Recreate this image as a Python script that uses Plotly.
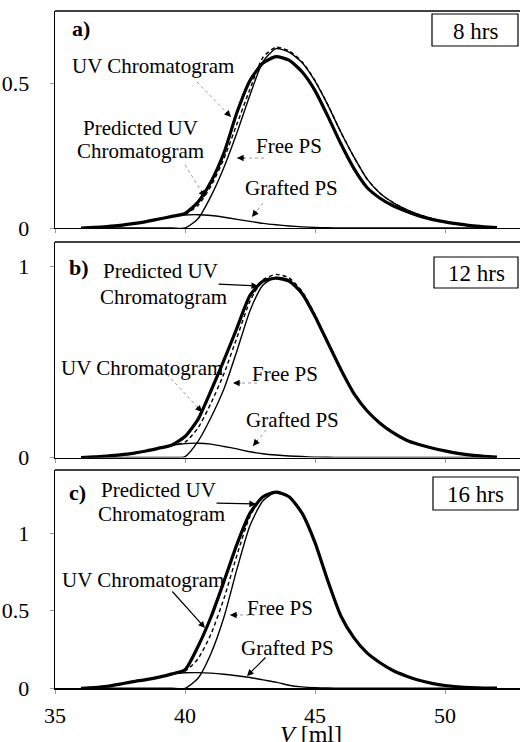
import plotly.graph_objects as go

# ---------------- data ----------------
V = [36.0, 36.5, 37.0, 37.5, 38.0, 38.5, 39.0, 39.5, 40.0, 40.5, 41.0,
     41.5, 42.0, 42.5, 43.0, 43.5, 44.0, 44.5, 45.0, 45.5, 46.0, 46.5,
     47.0, 47.5, 48.0, 48.5, 49.0, 49.5, 50.0, 50.5, 51.0, 51.5, 52.0]

# panel a) 8 hrs
uv_a = [0.000, 0.002, 0.005, 0.009, 0.015, 0.022, 0.031, 0.040, 0.050, 0.090, 0.160,
        0.260, 0.400, 0.510, 0.570, 0.592, 0.580, 0.540, 0.475, 0.385, 0.290, 0.205,
        0.140, 0.103, 0.077, 0.058, 0.042, 0.030, 0.021, 0.014, 0.008, 0.004, 0.001]
pred_a = [0.000, 0.002, 0.005, 0.009, 0.015, 0.022, 0.031, 0.040, 0.048, 0.078, 0.145,
          0.240, 0.360, 0.480, 0.590, 0.625, 0.612, 0.575, 0.510, 0.425, 0.330, 0.245,
          0.170, 0.120, 0.088, 0.064, 0.046, 0.032, 0.021, 0.013, 0.007, 0.003, 0.001]
free_a = [0.000, 0.000, 0.000, 0.000, 0.000, 0.000, 0.000, 0.000, 0.000, 0.032, 0.110,
          0.210, 0.330, 0.460, 0.575, 0.620, 0.608, 0.572, 0.508, 0.424, 0.330, 0.245,
          0.170, 0.120, 0.088, 0.064, 0.046, 0.032, 0.021, 0.013, 0.007, 0.003, 0.001]
graft_a = [0.000, 0.002, 0.005, 0.009, 0.015, 0.022, 0.031, 0.040, 0.045, 0.046, 0.043,
           0.037, 0.030, 0.023, 0.016, 0.011, 0.007, 0.004, 0.002, 0.001, 0.000, 0.000,
           0.000, 0.000, 0.000, 0.000, 0.000, 0.000, 0.000, 0.000, 0.000, 0.000, 0.000]

# panel b) 12 hrs
uv_b = [0.000, 0.003, 0.008, 0.014, 0.022, 0.034, 0.049, 0.066, 0.110, 0.200, 0.350,
        0.510, 0.680, 0.850, 0.925, 0.940, 0.925, 0.860, 0.740, 0.600, 0.460, 0.335,
        0.245, 0.180, 0.130, 0.092, 0.068, 0.050, 0.035, 0.022, 0.012, 0.006, 0.002]
pred_b = [0.000, 0.003, 0.008, 0.014, 0.022, 0.033, 0.048, 0.064, 0.080, 0.155, 0.285,
          0.440, 0.630, 0.820, 0.932, 0.960, 0.942, 0.872, 0.750, 0.605, 0.462, 0.335,
          0.245, 0.180, 0.130, 0.092, 0.068, 0.050, 0.035, 0.022, 0.012, 0.006, 0.002]
free_b = [0.000, 0.000, 0.000, 0.000, 0.000, 0.000, 0.000, 0.000, 0.005, 0.085, 0.210,
          0.360, 0.560, 0.770, 0.905, 0.945, 0.932, 0.866, 0.746, 0.602, 0.460, 0.335,
          0.245, 0.180, 0.130, 0.092, 0.068, 0.050, 0.035, 0.022, 0.012, 0.006, 0.002]
graft_b = [0.000, 0.003, 0.008, 0.014, 0.022, 0.033, 0.048, 0.064, 0.073, 0.075, 0.070,
           0.058, 0.045, 0.030, 0.020, 0.013, 0.008, 0.005, 0.002, 0.001, 0.000, 0.000,
           0.000, 0.000, 0.000, 0.000, 0.000, 0.000, 0.000, 0.000, 0.000, 0.000, 0.000]

# panel c) 16 hrs
uv_c = [0.000, 0.005, 0.013, 0.027, 0.043, 0.056, 0.072, 0.093, 0.120, 0.270, 0.460,
        0.690, 0.930, 1.130, 1.235, 1.265, 1.235, 1.130, 0.940, 0.690, 0.465, 0.325,
        0.228, 0.165, 0.115, 0.080, 0.052, 0.032, 0.018, 0.010, 0.005, 0.002, 0.001]
pred_c = [0.000, 0.005, 0.013, 0.026, 0.042, 0.055, 0.072, 0.092, 0.110, 0.190, 0.350,
          0.580, 0.860, 1.110, 1.238, 1.272, 1.240, 1.135, 0.945, 0.692, 0.466, 0.325,
          0.228, 0.165, 0.115, 0.080, 0.052, 0.032, 0.018, 0.010, 0.005, 0.002, 0.001]
free_c = [0.000, 0.000, 0.000, 0.000, 0.000, 0.000, 0.000, 0.000, 0.000, 0.065, 0.225,
          0.460, 0.770, 1.050, 1.210, 1.265, 1.235, 1.130, 0.940, 0.690, 0.465, 0.325,
          0.228, 0.165, 0.115, 0.080, 0.052, 0.032, 0.018, 0.010, 0.005, 0.002, 0.001]
graft_c = [0.000, 0.005, 0.013, 0.026, 0.042, 0.055, 0.072, 0.092, 0.100, 0.101, 0.098,
           0.091, 0.081, 0.070, 0.054, 0.040, 0.020, 0.009, 0.004, 0.002, 0.000, 0.000,
           0.000, 0.000, 0.000, 0.000, 0.000, 0.000, 0.000, 0.000, 0.000, 0.000, 0.000]

panel_labels = ["a)", "b)", "c)"]
time_labels = ["8 hrs", "12 hrs", "16 hrs"]
y_ticks = [[0, 0.5], [0, 1], [0, 0.5, 1]]
y_tick_text = [["0", "0.5"], ["0", "1"], ["0", "0.5", "1"]]
x_ticks = [35, 40, 45, 50]
x_tick_text = ["35", "40", "45", "50"]
x_title = "<i>V</i> [ml]"

# ---------------- layout geometry (pixels) ----------------
W, H = 520, 742
FONT = "Liberation Serif"
X_LEFT, X_RIGHT = 55, 520
X_RANGE = [35, 35 + (X_RIGHT - X_LEFT) / 26.0]
panels_px = [(11, 228.0), (242, 457.5), (470, 688.3)]   # (top, bottom)
y_ranges = [[0, 0.75], [0, 1.13], [0, 1.408]]

def px(x):
    return x / W

def py(y):
    return 1 - y / H

fig = go.Figure()

series = [
    (uv_a, pred_a, free_a, graft_a),
    (uv_b, pred_b, free_b, graft_b),
    (uv_c, pred_c, free_c, graft_c),
]

for i, (uv, pred, free, graft) in enumerate(series):
    xa = "x" if i == 0 else f"x{i+1}"
    ya = "y" if i == 0 else f"y{i+1}"
    common = dict(x=V, xaxis=xa, yaxis=ya, mode="lines", showlegend=False,
                  hoverinfo="skip")
    fig.add_trace(go.Scatter(y=graft, line=dict(color="black", width=1.4,
                                                shape="spline", smoothing=0.6), **common))
    fig.add_trace(go.Scatter(y=free, line=dict(color="black", width=1.4,
                                               shape="spline", smoothing=0.6), **common))
    fig.add_trace(go.Scatter(y=uv, line=dict(color="black", width=3.2,
                                             shape="spline", smoothing=0.6), **common))
    fig.add_trace(go.Scatter(y=pred, line=dict(color="black", width=1.4, dash="4px,3px",
                                               shape="spline", smoothing=0.6), **common))

layout = dict(width=W, height=H, margin=dict(l=0, r=0, t=0, b=0, autoexpand=False),
              paper_bgcolor="white", plot_bgcolor="white",
              font=dict(family=FONT, color="black", size=21))

for i in range(3):
    top, bot = panels_px[i]
    xkey = "xaxis" if i == 0 else f"xaxis{i+1}"
    ykey = "yaxis" if i == 0 else f"yaxis{i+1}"
    ya = "y" if i == 0 else f"y{i+1}"
    xa = "x" if i == 0 else f"x{i+1}"
    layout[xkey] = dict(domain=[px(X_LEFT), 1], range=X_RANGE, anchor=ya,
                        automargin=False,
                        showline=True, linecolor="black", linewidth=1.3,
                        ticks="outside", ticklen=4, tickcolor="#999", tickwidth=1,
                        tickvals=x_ticks, ticktext=x_tick_text,
                        showticklabels=(i == 2), showgrid=False, zeroline=False,
                        tickfont=dict(size=22, family=FONT), ticklabelstandoff=3)
    layout[ykey] = dict(domain=[py(bot), py(top)], range=y_ranges[i], anchor=xa,
                        automargin=False,
                        showline=True, linecolor="black", linewidth=1.3,
                        ticks="outside", ticklen=4, tickcolor="#999", tickwidth=1,
                        tickvals=y_ticks[i], ticktext=y_tick_text[i],
                        showgrid=False, zeroline=False,
                        tickfont=dict(size=22, family=FONT), ticklabelstandoff=16)

fig.update_layout(**layout)

shapes = []
annotations = []

# top borders of panels
for top, bot in panels_px:
    shapes.append(dict(type="line", xref="paper", yref="paper",
                       x0=px(X_LEFT), x1=1, y0=py(top), y1=py(top),
                       line=dict(color="black", width=1.3)))

# time boxes
time_boxes = [(432, 14, 518, 46), (434, 257, 518, 288), (433, 477, 518, 510)]
for (x0, y0, x1, y1), lab in zip(time_boxes, time_labels):
    shapes.append(dict(type="rect", xref="paper", yref="paper",
                       x0=px(x0), x1=px(x1), y0=py(y1), y1=py(y0),
                       line=dict(color="black", width=1.2), fillcolor="white"))
    annotations.append(dict(xref="paper", yref="paper", x=px((x0 + x1) / 2),
                            y=py((y0 + y1) / 2 + 1), text=lab, showarrow=False,
                            xanchor="center", yanchor="middle",
                            font=dict(size=23, family=FONT)))

def text(x, y, s, size=21, bold=False):
    annotations.append(dict(xref="paper", yref="paper", x=px(x), y=py(y),
                            text=(f"<b>{s}</b>" if bold else s), showarrow=False,
                            xanchor="center", yanchor="middle",
                            font=dict(size=size, family=FONT)))

def arrow(tx, ty, hx, hy, dotted):
    if dotted:
        shapes.append(dict(type="line", xref="paper", yref="paper",
                           x0=px(tx), y0=py(ty), x1=px(hx), y1=py(hy),
                           line=dict(color="#9a9a9a", width=1, dash="dot")))
        dx, dy = tx - hx, ty - hy
        n = (dx * dx + dy * dy) ** 0.5
        ax, ay = dx / n * 9, dy / n * 9
    else:
        ax, ay = tx - hx, ty - hy
    annotations.append(dict(xref="paper", yref="paper", x=px(hx), y=py(hy),
                            ax=ax, ay=ay, axref="pixel", ayref="pixel", text="",
                            showarrow=True, arrowhead=2, arrowsize=1.1,
                            arrowwidth=1.2, arrowcolor="black"))

# panel a
text(81, 29, panel_labels[0], size=22, bold=True)
text(153, 66, "UV Chromatogram")
text(140, 128, "Predicted UV")
text(140, 151, "Chromatogram")
text(289, 146, "Free PS")
text(291, 188, "Grafted PS")
arrow(197, 82, 231, 117, True)
arrow(185, 165, 205, 197, True)
arrow(264, 158, 237, 158, True)
arrow(263, 203, 252, 217, True)

# panel b
text(79, 267, panel_labels[1], size=22, bold=True)
text(160, 271, "Predicted UV")
text(163, 297, "Chromatogram")
text(142, 368, "UV Chromatogram")
text(285, 374, "Free PS")
text(292, 420, "Grafted PS")
arrow(217, 284, 258, 286, False)
arrow(163, 370, 202, 412, True)
arrow(257, 383, 233, 383, True)
arrow(266, 430, 253, 446, True)

# panel c
text(77, 492, panel_labels[2], size=22, bold=True)
text(158, 490, "Predicted UV")
text(161, 514, "Chromatogram")
text(143, 580, "UV Chromatogram")
text(280, 608, "Free PS")
text(287, 648, "Grafted PS")
arrow(215, 503, 256, 504, False)
arrow(171, 590, 205, 628, False)
arrow(255, 615, 230, 615, True)
arrow(267, 656, 247, 676, False)

# x axis title
annotations.append(dict(xref="paper", yref="paper", x=px(311), y=py(734),
                        text=x_title, showarrow=False, xanchor="center",
                        yanchor="middle", font=dict(size=24, family=FONT)))

fig.update_layout(shapes=shapes, annotations=annotations)
fig.write_html("out.html",
               config={"staticPlot": True, "displayModeBar": False},
               post_script="document.body.style.margin='0';document.body.style.overflow='hidden';")
